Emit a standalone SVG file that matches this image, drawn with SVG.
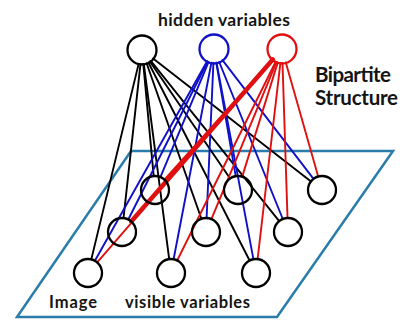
<svg xmlns="http://www.w3.org/2000/svg" width="401" height="320" viewBox="0 0 401 320">
  <style>
    .lbl { font-family: Lato, "Open Sans", "Liberation Sans", sans-serif; font-weight: 700; fill: #141414; }
    .node { fill: none; stroke-width: 2.3; }
    .k { stroke: #000000; }
    .b { stroke: #1010c8; }
    .r { stroke: #e01010; }
    .edges line { stroke-width: 1.9; stroke-linecap: round; }
  </style>
  <rect width="401" height="320" fill="#ffffff"/>

  <!-- image plane -->
  <polygon id="plane" points="131,151 393,151 277,317 17,317" fill="none" stroke="#2a7dab" stroke-width="2.5" stroke-linejoin="miter"/>

  <!-- connectors: every hidden unit to every visible unit -->
  <g id="connectors" class="edges">
    <g class="k">
      <line x1="143.3" y1="63.9" x2="153.7" y2="176.1"/>
      <line x1="149.9" y1="61.5" x2="230.1" y2="178.5"/>
      <line x1="153.1" y1="58.6" x2="311.0" y2="181.4"/>
      <line x1="140.5" y1="63.9" x2="123.5" y2="218.1"/>
      <line x1="146.6" y1="63.2" x2="201.4" y2="218.8"/>
      <line x1="150.8" y1="60.9" x2="279.2" y2="221.1"/>
      <line x1="138.7" y1="63.6" x2="91.3" y2="259.4"/>
      <line x1="143.8" y1="63.9" x2="169.2" y2="259.1"/>
      <line x1="148.4" y1="62.5" x2="249.6" y2="260.5"/>
    </g>
    <g class="b">
      <line x1="208.6" y1="61.9" x2="160.4" y2="177.1"/>
      <line x1="216.3" y1="62.8" x2="235.7" y2="176.2"/>
      <line x1="222.5" y1="60.1" x2="313.5" y2="178.9"/>
      <line x1="207.7" y1="61.5" x2="128.3" y2="219.5"/>
      <line x1="213.4" y1="63.0" x2="206.6" y2="218.0"/>
      <line x1="219.2" y1="62.0" x2="282.8" y2="219.0"/>
      <line x1="207.1" y1="61.2" x2="94.9" y2="260.8"/>
      <line x1="211.4" y1="62.7" x2="173.6" y2="259.3"/>
      <line x1="216.6" y1="62.8" x2="253.4" y2="259.2"/>
    </g>
    <g class="r">
      <line x1="272.6" y1="59.4" x2="164.4" y2="179.6"/>
      <line x1="277.8" y1="62.4" x2="242.2" y2="176.6"/>
      <line x1="285.8" y1="62.5" x2="318.2" y2="176.5"/>
      <line x1="272.8" y1="59.5" x2="131.2" y2="221.5" style="stroke-width:4.5"/>
      <line x1="276.6" y1="61.9" x2="211.4" y2="219.1"/>
      <line x1="282.5" y1="63.0" x2="287.5" y2="218.0"/>
      <line x1="272.8" y1="59.6" x2="97.2" y2="262.4"/>
      <line x1="275.8" y1="61.5" x2="177.2" y2="260.5"/>
      <line x1="280.4" y1="62.9" x2="257.6" y2="259.1"/>
    </g>
  </g>

  <!-- hidden units -->
  <g id="h1"><circle class="node k" cx="142" cy="50" r="14.5"/></g>
  <g id="h2"><circle class="node b" cx="214" cy="49" r="14.5"/></g>
  <g id="h3"><circle class="node r" cx="282" cy="49" r="14.5"/></g>

  <!-- visible units -->
  <g id="v1"><circle class="node k" cx="155" cy="190" r="14"/></g>
  <g id="v2"><circle class="node k" cx="238" cy="190" r="14"/></g>
  <g id="v3"><circle class="node k" cx="322" cy="190" r="14"/></g>
  <g id="v4"><circle class="node k" cx="122" cy="232" r="14"/></g>
  <g id="v5"><circle class="node k" cx="206" cy="232" r="14"/></g>
  <g id="v6"><circle class="node k" cx="288" cy="232" r="14"/></g>
  <g id="v7"><circle class="node k" cx="88" cy="273" r="14"/></g>
  <g id="v8"><circle class="node k" cx="171" cy="273" r="14"/></g>
  <g id="v9"><circle class="node k" cx="256" cy="273" r="14"/></g>

  <!-- labels -->
  <text class="lbl" x="158" y="26" font-size="17.5" textLength="132" lengthAdjust="spacing">hidden variables</text>
  <text class="lbl" x="315" y="82" font-size="20.5" textLength="76" lengthAdjust="spacing">Bipartite</text>
  <text class="lbl" x="315" y="105" font-size="20.5" textLength="83" lengthAdjust="spacing">Structure</text>
  <text class="lbl" x="49" y="308" font-size="16.5" textLength="48" lengthAdjust="spacing">Image</text>
  <text class="lbl" x="125" y="308" font-size="16.5" textLength="125" lengthAdjust="spacing">visible variables</text>
</svg>
